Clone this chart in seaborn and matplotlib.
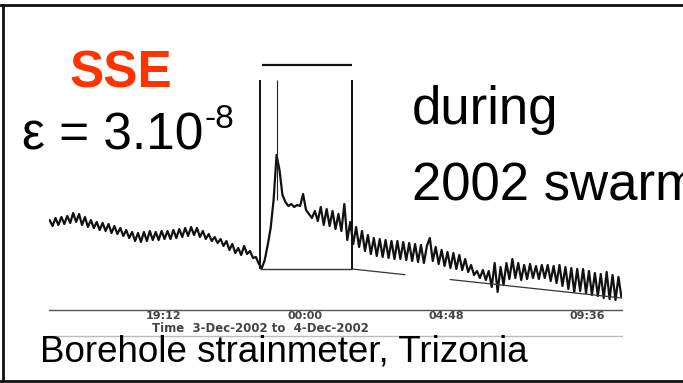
import numpy as np
import pandas as pd
import seaborn as sns
import matplotlib
matplotlib.use("Agg")
import matplotlib.pyplot as plt
from matplotlib.lines import Line2D

# ---------------- data ----------------
# time in hours since 3-Dec-2002 00:00 (regular sampling)
t_start = 15.35
t_step = 0.1
# strain (arbitrary units, ~1e-9)
strain = [
    9.0, 8.4, 9.2, 8.5, 9.3, 8.6, 9.4, 8.7, 9.7, 8.8,
    9.6, 8.5, 9.3, 8.3, 9.0, 8.2, 8.8, 8.0, 8.7, 7.9,
    8.6, 7.7, 8.4, 7.6, 8.2, 7.4, 8.0, 7.2, 7.8, 6.9,
    7.7, 6.8, 7.8, 6.9, 7.9, 7.0, 7.8, 7.0, 7.9, 7.1,
    7.9, 7.1, 8.0, 7.2, 8.1, 7.3, 8.2, 7.4, 8.3, 7.5,
    8.2, 7.3, 7.9, 7.1, 7.6, 6.9, 7.3, 6.7, 7.1, 6.4,
    6.9, 6.0, 6.6, 5.7, 6.2, 5.5, 6.4, 5.6, 5.9, 5.2,
    5.3, 4.6, 4.2, 5.0, 6.5, 8.2, 11.0, 15.5, 14.0, 11.5,
    10.8, 10.4, 10.6, 10.3, 10.5, 10.4, 11.6, 10.0, 9.6, 9.2,
    9.9, 8.9, 10.3, 8.5, 10.1, 8.4, 9.9, 8.1, 9.6, 7.9,
    10.6, 7.0, 8.8, 6.6, 8.3, 6.3, 7.9, 5.9, 7.5, 5.6,
    7.2, 5.4, 7.1, 5.3, 7.0, 5.2, 6.9, 5.1, 6.9, 5.1,
    6.8, 5.0, 6.7, 4.9, 6.6, 4.8, 6.5, 4.7, 6.4, 7.2,
    4.9, 6.3, 4.6, 6.0, 4.4, 5.8, 4.2, 5.7, 4.1, 5.5,
    4.0, 5.1, 3.8, 4.5, 3.5, 3.9, 3.2, 4.0, 3.0, 3.9,
    2.3, 4.7, 1.8, 4.3, 2.5, 4.7, 3.1, 5.1, 3.2, 4.7,
    3.0, 4.5, 3.1, 4.6, 3.2, 4.4, 3.1, 4.5, 3.2, 4.5,
    2.9, 4.4, 2.7, 4.5, 2.4, 4.3, 2.1, 4.2, 1.8, 4.1,
    1.9, 4.1, 1.7, 3.9, 1.5, 3.7, 1.4, 3.6, 1.2, 3.8,
    1.1, 3.5, 1.0, 3.3, 1.3,
]
x_limits = [15.33, 34.77]
tick_hours = [19.2, 24.0, 28.8, 33.6]
tick_labels = ["19:12", "00:00", "04:48", "09:36"]

# SSE window annotation
box_times = [22.49, 25.61]
box_base = 4.1
box_top = 23.0
bar_times = [22.56, 25.61]
bar_level = 24.5
spike_time = 23.08
spike_range = [11.0, 23.0]
# long-term trend line (drawn with a gap)
trend_t1 = [25.61, 27.41]
trend_t2 = [28.94, 34.77]
trend_ends = [4.1, 1.2]

# ---------------- figure ----------------
sns.set_style("white")
plt.rcParams["font.family"] = ["Liberation Sans", "DejaVu Sans"]

W, H = 683, 383
fig = plt.figure(figsize=(W / 100, H / 100), dpi=100)
ax = fig.add_axes([49 / W, (H - 310) / H, (622 - 49) / W, (310 - 60) / H])

times = t_start + t_step * np.arange(len(strain))
df = pd.DataFrame({"time": times, "strain": strain})
sns.lineplot(data=df, x="time", y="strain", ax=ax, color="#111111", lw=1.6)

ax.set_xlim(*x_limits)
ax.set_ylim(0, 25)


def trend_v(t):
    return trend_ends[0] + (trend_ends[1] - trend_ends[0]) * (t - trend_t1[0]) / (trend_t2[1] - trend_t1[0])


ax.plot(trend_t1, [trend_v(t) for t in trend_t1], color="#333333", lw=0.9)
ax.plot(trend_t2, [trend_v(t) for t in trend_t2], color="#333333", lw=0.9)

ax.vlines(box_times, box_base, box_top, color="#111111", lw=1.4)
ax.hlines(box_base, box_times[0], box_times[1], color="#333333", lw=1.0)
ax.hlines(bar_level, bar_times[0], bar_times[1], color="#111111", lw=1.6)
ax.vlines([spike_time], spike_range[0], spike_range[1], color="#222222", lw=0.8)

for s in ["top", "right", "left"]:
    ax.spines[s].set_visible(False)
ax.spines["bottom"].set_color("#555555")
ax.spines["bottom"].set_linewidth(1.0)
ax.set_yticks([])
ax.set_xticks(tick_hours)
ax.set_xticklabels(tick_labels, fontsize=8, color="#444444", family="DejaVu Sans",
                   fontweight="bold")
ax.tick_params(axis="x", direction="in", length=3, width=0.8, color="#555555", pad=1)
ax.set_xlabel("")
ax.set_ylabel("")
ax.patch.set_alpha(0)

fig.text(260 / W, 1 - 328.5 / H, "Time  3-Dec-2002 to  4-Dec-2002", fontsize=8.5,
         color="#444444", family="DejaVu Sans", fontweight="bold", ha="center", va="center")
fig.add_artist(Line2D([49 / W, 622 / W], [1 - 336 / H] * 2, color="#bbbbbb", lw=1.0))

# frame
fig.add_artist(Line2D([0, 1], [1 - 5 / H] * 2, color="#111111", lw=2.0))
fig.add_artist(Line2D([3 / W] * 2, [1 - 5 / H, 1 - 381 / H], color="#111111", lw=2.0))
fig.add_artist(Line2D([0, 1], [1 - 381 / H] * 2, color="#111111", lw=2.0))

# big slide texts
fig.text(70 / W, 1 - 88 / H, "SSE", color="#ff3300", fontsize=37, fontweight="bold",
         ha="left", va="baseline")
eps = fig.text(22 / W, 1 - 150 / H, "ε = 3.10", color="black", fontsize=37,
               ha="left", va="baseline")
fig.canvas.draw()
bb = eps.get_window_extent()
fig.text((bb.x1 + 1) / W, 1 - 128 / H, "-8", color="black", fontsize=24,
         ha="left", va="baseline")
fig.text(412 / W, 1 - 124 / H, "during", color="black", fontsize=38,
         ha="left", va="baseline")
fig.text(412 / W, 1 - 200 / H, "2002 swarm", color="black", fontsize=38,
         ha="left", va="baseline")
fig.text(40 / W, 1 - 362 / H, "Borehole strainmeter, Trizonia", color="black",
         fontsize=26.5, ha="left", va="baseline")

fig.savefig("out.png", dpi=100)
